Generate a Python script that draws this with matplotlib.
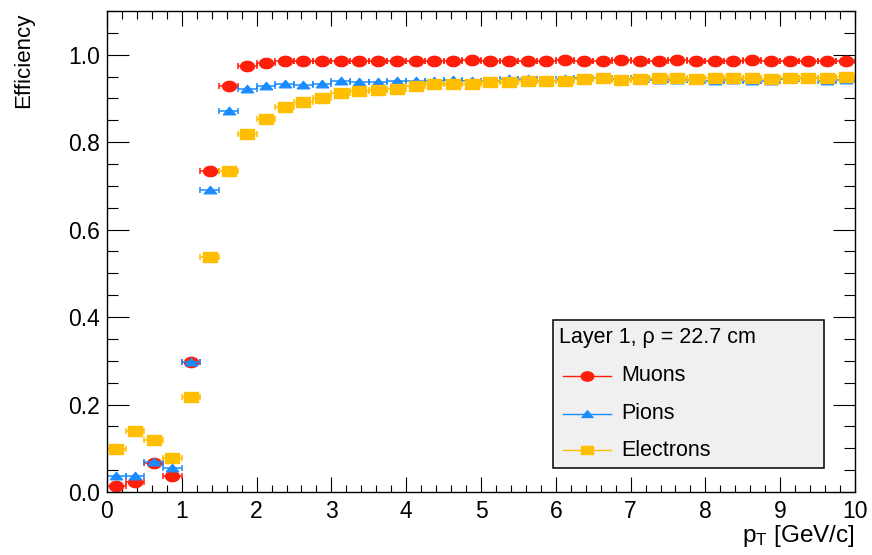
import numpy as np
import matplotlib
matplotlib.use("Agg")
import matplotlib.pyplot as plt
from matplotlib.path import Path
from matplotlib.markers import MarkerStyle
from matplotlib.lines import Line2D
from matplotlib.patches import Rectangle
from matplotlib.ticker import MultipleLocator, FormatStrFormatter

plt.rcParams['font.family'] = ['Liberation Sans', 'DejaVu Sans']
plt.rcParams['mathtext.default'] = 'regular'

# ---- data: efficiency vs pT, 40 bins of 0.25 GeV/c ----
bin_edges = np.arange(0, 10.01, 0.25)
pt = 0.5 * (bin_edges[:-1] + bin_edges[1:])
pt_err = 0.5 * np.diff(bin_edges)

eff_muons = [0.013, 0.024, 0.067, 0.037, 0.298, 0.735, 0.928, 0.975, 0.982, 0.985,
             0.985, 0.986, 0.985, 0.986, 0.986, 0.985, 0.986, 0.986, 0.985, 0.987,
             0.986, 0.985, 0.986, 0.986, 0.987, 0.985, 0.986, 0.987, 0.986, 0.986,
             0.987, 0.986, 0.986, 0.985, 0.987, 0.986, 0.986, 0.986, 0.986, 0.985]
eff_pions = [0.037, 0.037, 0.068, 0.055, 0.298, 0.691, 0.872, 0.922, 0.928, 0.934,
             0.931, 0.934, 0.940, 0.938, 0.938, 0.940, 0.941, 0.940, 0.943, 0.941,
             0.941, 0.944, 0.944, 0.941, 0.944, 0.947, 0.946, 0.944, 0.947, 0.942,
             0.942, 0.943, 0.941, 0.943, 0.941, 0.941, 0.945, 0.946, 0.941, 0.942]
eff_electrons = [0.098, 0.140, 0.120, 0.078, 0.217, 0.537, 0.734, 0.818, 0.852, 0.880,
                 0.893, 0.902, 0.912, 0.918, 0.920, 0.922, 0.928, 0.933, 0.934, 0.934,
                 0.937, 0.937, 0.941, 0.939, 0.939, 0.944, 0.947, 0.943, 0.944, 0.947,
                 0.946, 0.945, 0.946, 0.947, 0.947, 0.945, 0.946, 0.947, 0.946, 0.948]

labels = ['Muons', 'Pions', 'Electrons']
colors = ['#ff1e0a', '#1a8cff', '#ffbf00']
legend_title = 'Layer 1, \u03c1 = 22.7 cm'


# ---- marker shapes (slightly wide, like the ROOT canvas) ----
def wide(verts):
    return MarkerStyle(Path(np.asarray(verts), closed=True))


t = np.linspace(0, 2 * np.pi, 41)
m_circle = wide(np.column_stack([1.35 * np.cos(t), np.sin(t)]))
m_square = wide([[-1.45, -1], [1.45, -1], [1.45, 1], [-1.45, 1], [-1.45, -1]])
m_tri = wide([[-1.4, -0.75], [1.4, -0.75], [0, 0.95], [-1.4, -0.75]])
markers = [m_circle, m_tri, m_square]
msizes = [10.0, 8.8, 10.0]

fig = plt.figure(figsize=(8.72, 5.55), dpi=100)
ax = fig.add_axes([0.1227, 0.1135, 0.8578, 0.8667])

for y, c, m, ms in zip([eff_muons, eff_pions, eff_electrons], colors, markers, msizes):
    ax.errorbar(pt, y, xerr=pt_err, fmt='none', ecolor=c, elinewidth=1.1,
                capsize=2.2, capthick=1.1)
    ax.plot(pt, y, ls='none', marker=m, ms=ms, color=c, mec=c)

ax.set_xlim(0, 10)
ax.set_ylim(0, 1.1)
ax.xaxis.set_major_locator(MultipleLocator(1))
ax.xaxis.set_minor_locator(MultipleLocator(0.2))
ax.yaxis.set_major_locator(MultipleLocator(0.2))
ax.yaxis.set_minor_locator(MultipleLocator(0.05))
ax.yaxis.set_major_formatter(FormatStrFormatter('%.1f'))
ax.tick_params(which='both', direction='in', top=True, right=True, width=0.8,
               labelsize=16.5, colors='black')
ax.tick_params(axis='x', which='major', length=10.5, pad=6)
ax.tick_params(axis='x', which='minor', length=5.4)
ax.tick_params(axis='y', which='major', length=16, pad=5)
ax.tick_params(axis='y', which='minor', length=8)
for s in ax.spines.values():
    s.set_linewidth(1.0)

fig.text(0.027, 0.978, 'Efficiency', rotation=90, ha='center', va='top', fontsize=16)
fig.text(0.9805, 0.010, 'p$_{T}$ [GeV/c]', ha='right', va='bottom', fontsize=17.5)

# ---- legend box ----
ax.add_patch(Rectangle((0.596, 0.050), 0.3626, 0.3076, transform=ax.transAxes,
                       facecolor='#f0f0f0', edgecolor='black', lw=1.1, zorder=5))
ax.text(0.604, 0.322, legend_title, transform=ax.transAxes, ha='left', va='center',
        fontsize=15.5, zorder=6)
for yy, lab, c, m, ms in zip([0.2418, 0.1628, 0.0873], labels, colors, markers, msizes):
    ax.add_line(Line2D([0.6096, 0.6738], [yy, yy], transform=ax.transAxes,
                       color=c, lw=1.0, zorder=6))
    ax.add_line(Line2D([0.6417], [yy], transform=ax.transAxes, ls='none', marker=m,
                       ms=ms * 0.9, color=c, zorder=7))
    ax.text(0.687, yy, lab, transform=ax.transAxes, ha='left', va='center',
            fontsize=15.5, zorder=6)

fig.savefig('out.png', dpi=100)
